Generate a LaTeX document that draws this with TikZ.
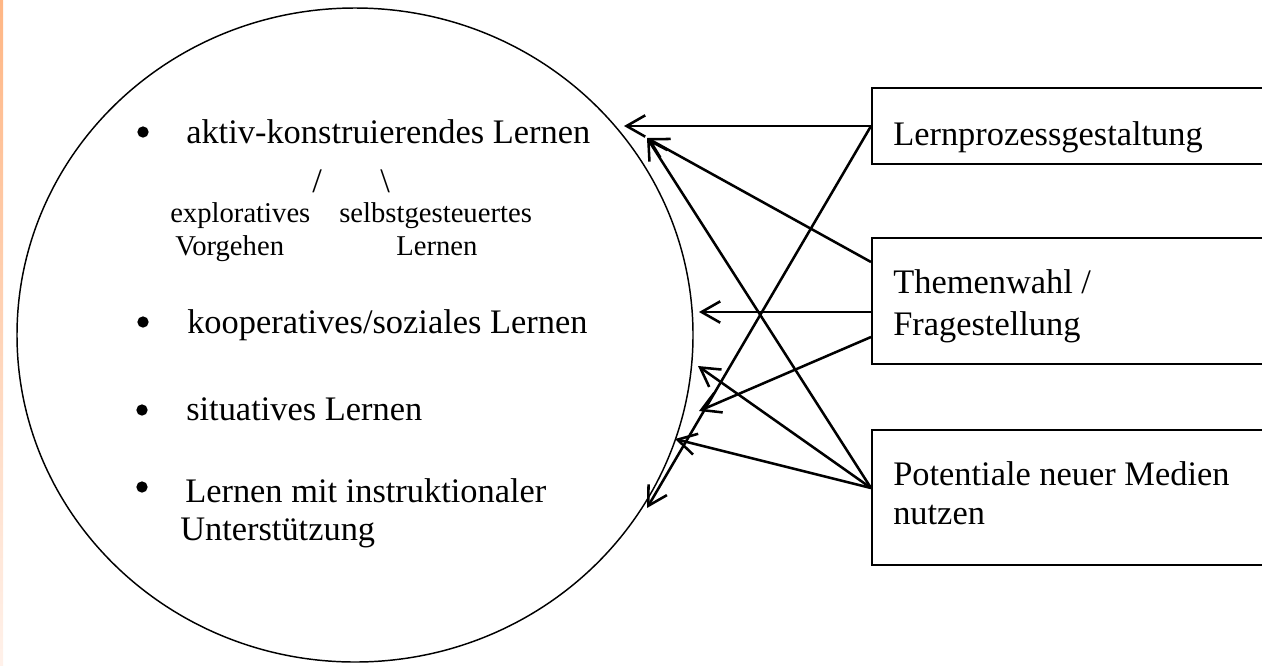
\documentclass[tikz,border=0pt]{standalone}
\usepackage{fontspec}
\setmainfont{Liberation Serif}
\usetikzlibrary{arrows.meta}
\definecolor{stripTop}{HTML}{FFB684}
\definecolor{stripBot}{HTML}{FFF1EA}
\tikzset{
    box/.style={draw, line width=1.5pt, inner sep=0pt, anchor=north west, minimum width=330pt},
    lbl/.style={anchor=base west, inner sep=0pt, font=\fontsize{25.8pt}{30pt}\selectfont},
    small/.style={anchor=base west, inner sep=0pt, font=\fontsize{21.5pt}{26pt}\selectfont},
    pfeil/.style={-{Straight Barb[length=14pt,width=16pt]}, line width=1.9pt},
    dot/.style={circle, fill, inner sep=0pt, minimum size=8.5pt}
}
\begin{document}
\begin{tikzpicture}[x=0.75pt,y=-0.75pt]
    \useasboundingbox (0,0) rectangle (1262,665);
    \clip (0,0) rectangle (1262,665);
    \shade[top color=stripTop, bottom color=stripBot] (0,0) rectangle (3,665);
    % Lernformen
    \draw 
        [line width=1.1pt] (355,335) ellipse [x radius=338, y radius=327];
    \node[dot] (d1) at (143,132) {};
    \node[dot] (d2) at (143,322) {};
    \node[dot] (d3) at (142,410) {};
    \node[dot] (d4) at (142,487) {};
    \node[lbl] (aktiv) at (186,143) {aktiv-konstruierendes Lernen};
    \node[lbl] (sl1) at (312,192) {/};
    \node[lbl] (sl2) at (380,192) {\textbackslash};
    \node[small] (expl) at (170,222) {exploratives};
    \node[small] (vorg) at (175,255) {Vorgehen};
    \node[small] (selbst) at (339,222) {selbstgesteuertes};
    \node[small] (selbst2) at (396,255) {Lernen};
    \node[lbl] (koop) at (187,333) {kooperatives/soziales Lernen};
    \node[lbl] (sit) at (186,420) {situatives Lernen};
    \node[lbl] (instr) at (185,502) {Lernen mit instruktionaler};
    \node[lbl] (instr2) at (180,540) {Unterstützung};
    % Kästen
    \node[box, minimum height=57pt] (lern) at (871,87) {};
    \node[box, minimum height=94.5pt] (thema) at (871,237) {};
    \node[box, minimum height=101.25pt] (medien) at (871,429) {};
    \node[lbl] (lernT) at (893,145) {Lernprozessgestaltung};
    \node[lbl] (themaT) at (893,293) {Themenwahl /};
    \node[lbl] (themaT2) at (893,335) {Fragestellung};
    \node[lbl] (medienT) at (893,485) {Potentiale neuer Medien};
    \node[lbl] (medienT2) at (893,524) {nutzen};
    % Pfeile
    \coordinate (lern-a) at (871,126);
    \coordinate (thema-a) at (871,262);
    \coordinate (thema-b) at (871,312);
    \coordinate (thema-c) at (871,337);
    \coordinate (medien-a) at (871,488);
    \coordinate (t-akt1) at (624,126);
    \coordinate (t-akt2) at (647,138);
    \coordinate (t-koop) at (699,312);
    \coordinate (t-sit) at (699,411);
    \coordinate (t-mid) at (698,366);
    \coordinate (t-low) at (675,439);
    \coordinate (t-lern) at (647,508);
    \draw 
        [pfeil] (lern-a)--(t-akt1);
    \draw 
        [pfeil] (lern-a)--(t-lern);
    \draw 
        [pfeil] (thema-a)--(t-akt2);
    \draw 
        [pfeil] (thema-b)--(t-koop);
    \draw 
        [pfeil] (thema-c)--(t-sit);
    \draw 
        [pfeil] (medien-a)--(t-akt2);
    \draw 
        [pfeil] (medien-a)--(t-mid);
    \draw 
        [pfeil] (medien-a)--(t-low);
\end{tikzpicture}
\end{document}
